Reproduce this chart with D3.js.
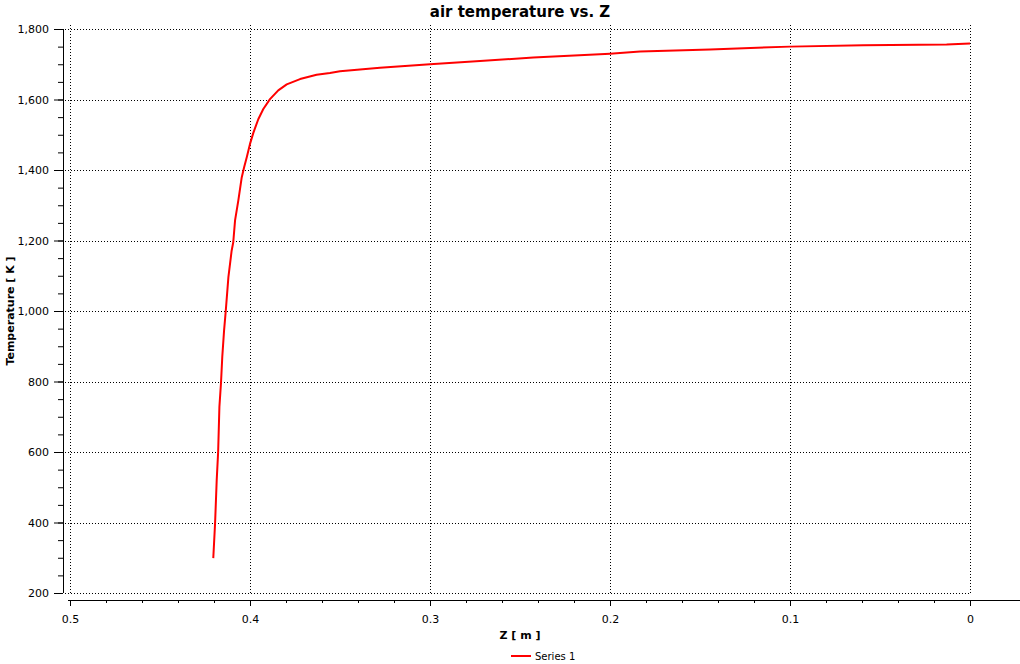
<!DOCTYPE html>
<html>
<head>
<meta charset="utf-8">
<script src="https://cdn.jsdelivr.net/npm/d3@7/dist/d3.min.js"></script>
<style>
  html, body { margin: 0; padding: 0; background: #fff; }
  svg { display: block; font-family: "DejaVu Sans", Verdana, sans-serif; }
</style>
</head>
<body>
<svg id="chart" width="1020" height="664"></svg>
<script>
// ---- Data ----
const chartTitle = "air temperature vs. Z";
const xTitle = "Z [ m ]";
const yTitle = "Temperature [ K ]";
const seriesName = "Series 1";

const zValues = [0.4204, 0.4194, 0.4185, 0.4177, 0.4170, 0.4161, 0.4154, 0.4144, 0.4135, 0.4120,
  0.4102, 0.4093, 0.4083, 0.4065, 0.4046, 0.4033, 0.4018, 0.4000, 0.3981, 0.3954,
  0.3926, 0.3889, 0.3843, 0.3796, 0.3722, 0.3630, 0.3556, 0.3500, 0.3278, 0.3000,
  0.2722, 0.2426, 0.2000, 0.1833, 0.1444, 0.1000, 0.0593, 0.0130, 0.0000];
const tempValues = [299, 398, 520, 600, 728, 797, 870, 945, 998, 1096,
  1171, 1195, 1257, 1313, 1379, 1407, 1436, 1474, 1506, 1544,
  1573, 1601, 1626, 1643, 1658, 1670, 1675, 1680, 1690, 1700,
  1709, 1719, 1730, 1736, 1742, 1750, 1754, 1756, 1759];

const xTicks = [0.5, 0.4, 0.3, 0.2, 0.1, 0];
const xMinorTicks = d3.range(0, 51, 2).map(d => d / 100);
const yTicks = [200, 400, 600, 800, 1000, 1200, 1400, 1600, 1800];
const yMinorTicks = d3.range(200, 1801, 50);

// ---- Layout ----
const svg = d3.select("#chart");
const plot = { left: 70, right: 970, top: 29, bottom: 593 };

const x = d3.scaleLinear().domain([0.5, 0]).range([plot.left, plot.right]);
const y = d3.scaleLinear().domain([200, 1800]).range([plot.bottom, plot.top]);

// Grid
const grid = svg.append("g").attr("stroke", "#000").attr("stroke-width", 1)
  .attr("stroke-dasharray", "1,2").attr("shape-rendering", "crispEdges");
grid.selectAll("line.h").data(yTicks).join("line")
  .attr("x1", 65).attr("x2", plot.right)
  .attr("y1", d => Math.round(y(d)) + 0.5).attr("y2", d => Math.round(y(d)) + 0.5);
grid.selectAll("line.v").data(xTicks).join("line")
  .attr("x1", d => Math.round(x(d)) + 0.5).attr("x2", d => Math.round(x(d)) + 0.5)
  .attr("y1", 25).attr("y2", plot.bottom + 2);

// Y axis
const yAxisX = 63;
const yMinor = svg.append("g").attr("transform", `translate(${yAxisX},0)`)
  .call(d3.axisLeft(y).tickValues(yMinorTicks).tickSize(5).tickFormat(""));
const yMajor = svg.append("g").attr("transform", `translate(${yAxisX},0)`)
  .call(d3.axisLeft(y).tickValues(yTicks).tickSize(9).tickPadding(5).tickFormat(d3.format(",")));
[yMinor, yMajor].forEach(g => {
  g.select(".domain").attr("d", `M0.5,${y(1800)}V${y(200)}`).attr("stroke", "#000");
  g.selectAll(".tick line").attr("stroke", "#000");
});
yMajor.selectAll(".tick text").attr("font-size", 11).attr("fill", "#000")
  .attr("font-family", "DejaVu Sans, Verdana, sans-serif");

// X axis
const xAxisY = 600;
const xMinor = svg.append("g").attr("transform", `translate(0,${xAxisY})`)
  .call(d3.axisBottom(x).tickValues(xMinorTicks).tickSize(3).tickFormat(""));
const xMajor = svg.append("g").attr("transform", `translate(0,${xAxisY})`)
  .call(d3.axisBottom(x).tickValues(xTicks).tickSize(6).tickPadding(9).tickFormat(d => d === 0 ? "0" : d3.format(".1f")(d)));
[xMinor, xMajor].forEach(g => {
  g.select(".domain").attr("d", `M${plot.left - 2},0.5H${plot.right + 50}`).attr("stroke", "#000");
  g.selectAll(".tick line").attr("stroke", "#000");
});
xMajor.selectAll(".tick text").attr("font-size", 11).attr("fill", "#000")
  .attr("font-family", "DejaVu Sans, Verdana, sans-serif");

// Line
const pts = zValues.map((z, i) => [z, tempValues[i]]);
svg.append("path").datum(pts)
  .attr("fill", "none").attr("stroke", "#ff0000").attr("stroke-width", 2)
  .attr("stroke-linejoin", "round")
  .attr("d", d3.line().x(d => x(d[0])).y(d => y(d[1])));

// Titles
svg.append("text").attr("x", 520).attr("y", 17).attr("text-anchor", "middle")
  .attr("font-size", 15).attr("font-weight", "bold").attr("fill", "#000").text(chartTitle);
svg.append("text").attr("x", 520).attr("y", 639).attr("text-anchor", "middle")
  .attr("font-size", 11).attr("font-weight", "bold").attr("fill", "#000").text(xTitle);
svg.append("text").attr("transform", "translate(14,311) rotate(-90)").attr("text-anchor", "middle")
  .attr("font-size", 11).attr("font-weight", "bold").attr("fill", "#000").text(yTitle);

// Legend
svg.append("line").attr("x1", 511).attr("x2", 531).attr("y1", 656).attr("y2", 656)
  .attr("stroke", "#ff0000").attr("stroke-width", 2);
svg.append("text").attr("x", 535).attr("y", 660).attr("font-size", 10).attr("fill", "#000").text(seriesName);
</script>
</body>
</html>
